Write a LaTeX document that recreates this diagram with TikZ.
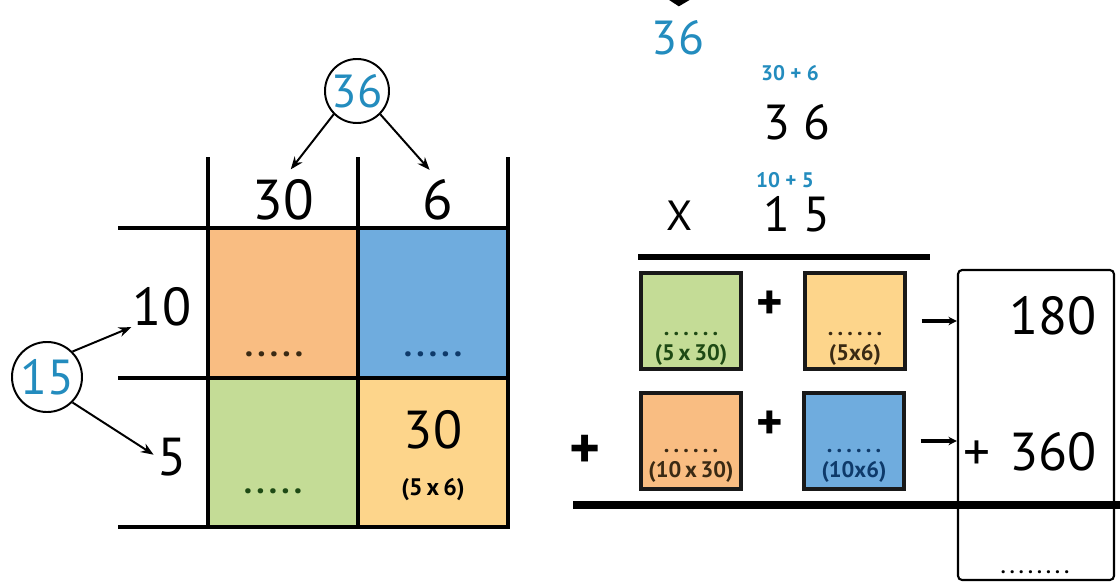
\documentclass[tikz,border=0pt]{standalone}
\usepackage{fontspec}
\setmainfont{PT Sans}
\usepackage{xcolor}
\usetikzlibrary{arrows.meta,positioning,calc}

\definecolor{cellorange}{HTML}{F9BD82}
\definecolor{cellblue}{HTML}{6FACDE}
\definecolor{cellgreen}{HTML}{C4DC96}
\definecolor{cellyellow}{HTML}{FDD58B}
\definecolor{numblue}{HTML}{238CBE}
\definecolor{inkbrown}{HTML}{3A2A14}
\definecolor{inkblue}{HTML}{0E3A6A}
\definecolor{inkgreen}{HTML}{1E4A14}

\newcommand{\fs}[1]{\fontsize{#1}{#1}\selectfont}
\newcommand{\blankdots}[1]{\foreach \k in {2,...,#1}{.\kern3pt}.}

\begin{document}
\begin{tikzpicture}[x=0.025cm, y=-0.025cm,
  txt/.style={inner sep=0pt, font=\fs{38}},
  circ/.style={circle, draw, line width=1.4pt, fill=white, inner sep=0pt, text=numblue},
  gridline/.style={line width=3.5pt},
  tipto/.style={line width=1.4pt, -{Stealth[length=9pt,width=7pt]}},
  card/.style={draw=black!90, line width=3.5pt, minimum width=2.5cm, minimum height=2.4cm, inner sep=0pt},
  cardlab/.style={inner sep=0pt, font=\bfseries\fs{16}},
  dotlab/.style={inner sep=0pt, font=\bfseries\fs{24}}]
\clip (0,0) rectangle (1120,585);

% area model
\fill[cellorange] (208,228) rectangle (358,378);
\fill[cellblue] (358,228) rectangle (508,378);
\fill[cellgreen] (208,378) rectangle (358,527);
\fill[cellyellow] (358,378) rectangle (508,527);
\foreach \gx in {208,358,508}
  \draw[gridline] (\gx,157) -- (\gx,527);
\foreach \gy in {228,378,527}
  \draw[gridline] (118,\gy) -- (510,\gy);

\node (c36) [circ, minimum size=1.6cm, font=\fs{33}] at (357,91) {36};
\node (h30) [txt, font=\fs{40}] at (283,200) {30};
\node (h6) [txt, font=\fs{40}] at (438,200) {6};
\node (c15) [circ, minimum size=1.75cm, font=\fs{35}] at (47,377) {15};
\node (n10) [txt] at (162,307) {10};
\node (n5) [txt] at (172,457) {5};
\draw[tipto, shorten >=9pt] (c36.-135) -- (h30.north);
\draw[tipto, shorten >=9pt] (c36.-45) -- (h6.north);
\draw[tipto, shorten >=1pt] (c15.45) -- (n10.south west);
\draw[tipto, shorten >=3pt] (c15.-45) -- (n5.west);

\node (d11) [dotlab, text=inkbrown] at (274,354) {\blankdots{5}};
\node (d12) [dotlab, text=inkblue] at (433,354) {\blankdots{5}};
\node (d21) [dotlab, text=inkgreen] at (273,491) {\blankdots{5}};
\node (p22) [txt] at (433,430) {30};
\node (q22) [txt, font=\bfseries\fs{17}] at (433,490) {(5\,x\,6)};

% column method
\node (t36) [txt, text=numblue, font=\fs{34}] at (678,38) {36};
\coordinate (src) at (680,-40);
\draw[line width=3pt, shorten >=10pt, -{Straight Barb[length=5pt,width=16pt]}] (src) -- (t36);
\node (s36) [txt, text=numblue, font=\bfseries\fs{15}] at (790,73) {30 + 6};
\node (a36) [txt, font=\fs{35}] at (797,122) {3 6};
\node (s15) [txt, text=numblue, font=\bfseries\fs{15}] at (785,180) {10 + 5};
\node (mul) [txt, font=\fs{30}] at (680,216) {X};
\node (a15) [txt, font=\fs{35}] at (797,214) {1 5};
\draw[line width=4.5pt] (638,257) -- (930,257);

\node (res) [draw, line width=1.5pt, rounded corners=3pt, minimum width=3.9cm, minimum height=7.75cm] at (1036,425) {};
\node (g1) [card, fill=cellgreen] at (691,321) {};
\node (y1) [card, fill=cellyellow] at (855,321) {};
\node (o2) [card, fill=cellorange] at (691,441) {};
\node (b2) [card, fill=cellblue] at (854,441) {};
\node (g1d) [cardlab, text=inkgreen] at (691,334) {\blankdots{6}};
\node (g1t) [cardlab, text=inkgreen] at (691,355) {(5\,x\,30)};
\node (y1d) [cardlab, text=inkbrown] at (855,334) {\blankdots{6}};
\node (y1t) [cardlab, text=inkbrown] at (855,355) {(5x6)};
\node (o2d) [cardlab, text=inkbrown] at (691,451) {\blankdots{6}};
\node (o2t) [cardlab, text=inkbrown] at (691,472) {(10\,x\,30)};
\node (b2d) [cardlab, text=inkblue] at (854,451) {\blankdots{6}};
\node (b2t) [cardlab, text=inkblue] at (854,472) {(10x6)};
\node (pl1) [txt, font=\bfseries\fs{36}] at (770,305) {+};
\node (pl2) [txt, font=\bfseries\fs{36}] at (770,425) {+};
\node (pl3) [txt, font=\bfseries\fs{42}] at (585,452) {+};
\draw[line width=2.5pt, shorten <=10pt, -{Stealth[length=6pt,width=6pt]}] (y1.east) -- (y1.east -| res.west);
\draw[line width=2.5pt, shorten <=10pt, -{Stealth[length=6pt,width=6pt]}] (b2.east) -- (b2.east -| res.west);
\node (r180) [txt, anchor=east] at (1097,316) {180};
\node (r360) [txt, anchor=east] at (1097,452) {+\hspace{0.35em}360};
\draw[line width=5pt] (573,505) -- (1125,505);
\node (rsum) [dotlab, font=\bfseries\fs{14}] at (1035,572) {\blankdots{8}};
\end{tikzpicture}
\end{document}
